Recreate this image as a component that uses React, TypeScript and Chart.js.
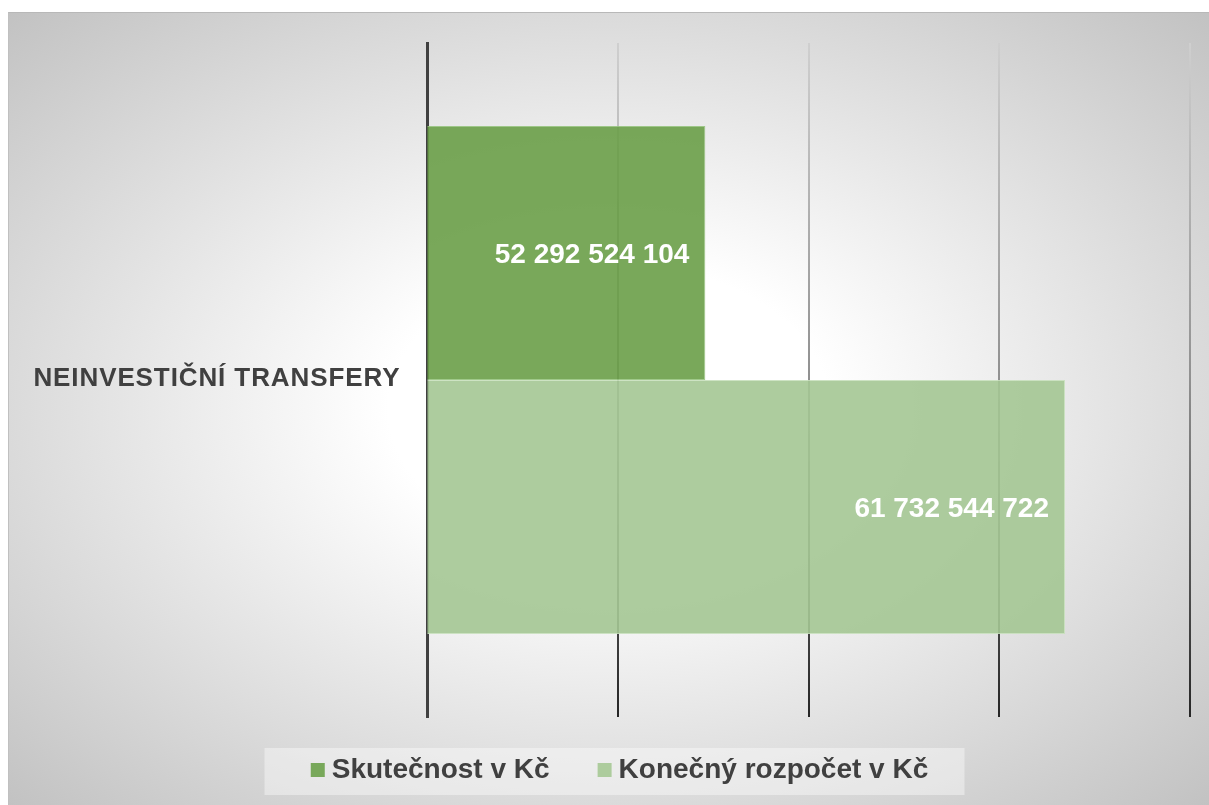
import React, { useEffect, useRef } from "react";
import { Chart, registerables } from "chart.js";

Chart.register(...registerables);

const categories: string[] = ["NEINVESTIČNÍ TRANSFERY"];
const seriesNames: string[] = ["Skutečnost v Kč", "Konečný rozpočet v Kč"];
const actualValues: number[] = [52292524104];
const budgetValues: number[] = [61732544722];
const axisMin = 45000000000;
const axisMax = 65000000000;
const axisStep = 5000000000;

const FONT = '"Liberation Sans", Arial, sans-serif';
const TEXT_COLOR = "#404040";

function formatNumber(v: number): string {
  return Math.round(v)
    .toString()
    .replace(/\B(?=(\d{3})+(?!\d))/g, " ");
}

const textPlugin = {
  id: "customText",
  afterDatasetsDraw(chart: any) {
    const ctx = chart.ctx as CanvasRenderingContext2D;
    ctx.save();
    ctx.font = `bold 28px ${FONT}`;
    ctx.fillStyle = "#ffffff";
    ctx.textAlign = "right";
    ctx.textBaseline = "alphabetic";
    chart.data.datasets.forEach((ds: any, i: number) => {
      const meta = chart.getDatasetMeta(i);
      meta.data.forEach((bar: any, j: number) => {
        ctx.fillText(formatNumber(ds.data[j]), bar.x - 16, bar.y + 10);
      });
    });
    ctx.restore();
  },
  afterDraw(chart: any) {
    const ctx = chart.ctx as CanvasRenderingContext2D;
    const area = chart.chartArea;
    const yScale = chart.scales.y;
    // category labels
    ctx.save();
    const spacing = 0.9;
    ctx.font = `bold 26px ${FONT}`;
    (ctx as any).letterSpacing = `${spacing}px`;
    ctx.fillStyle = TEXT_COLOR;
    ctx.textAlign = "left";
    ctx.textBaseline = "alphabetic";
    chart.data.labels.forEach((lab: string, i: number) => {
      const y = yScale.getPixelForValue(i);
      const w = ctx.measureText(lab).width - spacing;
      ctx.fillText(lab, area.left - 28 - w, y + 6);
    });
    ctx.restore();

    // legend
    ctx.save();
    const bgX = chart.width / 2 - 344.5;
    const bgY = area.bottom + 31;
    ctx.fillStyle = "rgba(255,255,255,0.4)";
    ctx.fillRect(bgX, bgY, 700, 47);
    ctx.font = `bold 28px ${FONT}`;
    ctx.textAlign = "left";
    ctx.textBaseline = "alphabetic";
    const box = 14;
    const gapBoxText = 7;
    const gapItems = 48;
    const items = chart.data.datasets.map((ds: any) => ({
      label: ds.label as string,
      color: ds.legendColor as string,
      w: ctx.measureText(ds.label).width,
    }));
    const total =
      items.reduce((s: number, it: any) => s + box + gapBoxText + it.w, 0) +
      gapItems * (items.length - 1);
    let x = chart.width / 2 + 10.5 - total / 2;
    const baseY = area.bottom + 61;
    items.forEach((it: any) => {
      ctx.fillStyle = it.color;
      ctx.fillRect(x, baseY - 15, box, box);
      ctx.fillStyle = TEXT_COLOR;
      ctx.fillText(it.label, x + box + gapBoxText, baseY);
      x += box + gapBoxText + it.w + gapItems;
    });
    ctx.restore();
  },
};

export default function App() {
  const canvasRef = useRef<HTMLCanvasElement | null>(null);

  useEffect(() => {
    const canvas = canvasRef.current;
    if (!canvas) return;
    document.body.style.overflow = "hidden";
    const gridColor = (context: any) => {
      const chart = context.chart;
      const area = chart.chartArea;
      if (!area) return "#888";
      const g = chart.ctx.createLinearGradient(0, area.top, 0, area.bottom);
      g.addColorStop(0, "#cfcfcf");
      g.addColorStop(0.5, "#909090");
      g.addColorStop(1, "#262626");
      return g;
    };
    const chart = new Chart(canvas, {
      type: "bar",
      data: {
        labels: categories,
        datasets: [
          {
            label: seriesNames[0],
            data: actualValues,
            backgroundColor: "rgba(106,159,72,0.9)",
            borderColor: "rgba(150,195,125,0.9)",
            borderWidth: 1,
            legendColor: "#78a85a",
          } as any,
          {
            label: seriesNames[1],
            data: budgetValues,
            backgroundColor: "rgba(164,199,147,0.9)",
            borderColor: "rgba(200,224,188,0.9)",
            borderWidth: 1,
            legendColor: "#adcc9d",
          } as any,
        ],
      },
      options: {
        indexAxis: "y",
        responsive: false,
        animation: false,
        devicePixelRatio: 1,
        layout: {
          padding: { left: 418.5, right: 19.5, top: 30, bottom: 88 },
        },
        datasets: {
          bar: {
            categoryPercentage: 0.754,
            barPercentage: 1.0,
          },
        },
        scales: {
          x: {
            min: axisMin,
            max: axisMax,
            ticks: { display: false, stepSize: axisStep },
            grid: {
              display: true,
              drawTicks: false,
              color: gridColor,
              lineWidth: 2,
            },
            border: { display: false },
          },
          y: {
            ticks: { display: false },
            grid: { display: false, drawTicks: false },
            border: { display: true, color: "#404040", width: 3 },
          },
        },
        plugins: {
          legend: { display: false },
          tooltip: { enabled: false },
        },
      },
      plugins: [textPlugin],
    });
    return () => chart.destroy();
  }, []);

  return (
    <div
      style={{
        position: "fixed",
        left: 8,
        top: 12,
        width: 1201,
        height: 793,
        boxSizing: "border-box",
        borderTop: "1px solid #b8b8b8",
        borderLeft: "1px solid #c0c0c0",
        background:
          "radial-gradient(ellipse farthest-corner at 50% 50%, #ffffff 0%, #ffffff 26%, #c2c2c2 100%)",
      }}
    >
      <canvas
        ref={canvasRef}
        width={1200}
        height={792}
        style={{ display: "block", width: 1200, height: 792 }}
      />
    </div>
  );
}
